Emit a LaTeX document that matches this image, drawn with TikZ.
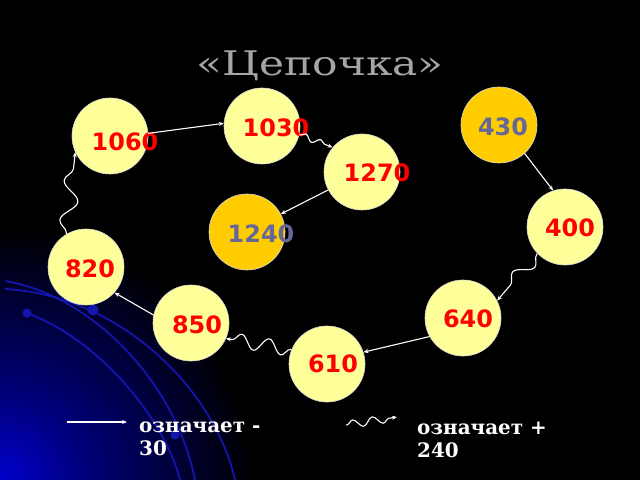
\documentclass[tikz,border=0pt]{standalone}
\usepackage{fontspec}
\setmainfont{DejaVu Serif}
\newfontfamily\numfont{DejaVu Sans}
\newfontfamily\titlefont{DejaVu Serif}[FakeStretch=1.25]
\usetikzlibrary{arrows.meta,decorations.pathmorphing}

\definecolor{paleyellow}{RGB}{255,255,153}
\definecolor{gold}{RGB}{255,204,0}
\definecolor{slate}{RGB}{102,102,153}
\definecolor{titlegray}{RGB}{165,165,165}
\definecolor{arcblue}{RGB}{20,20,175}
\definecolor{glowblue}{RGB}{0,0,205}

\pgfdeclareradialshading{cornerglow}{\pgfpoint{0bp}{0bp}}{%
  color(0bp)=(glowblue); color(3bp)=(glowblue!60!black);
  color(9bp)=(black); color(50bp)=(black)}

\tikzset{
  ball/.style={circle, fill=paleyellow, draw=white!85!black, line width=.6pt,
    minimum size=76bp, inner sep=0pt},
  goldball/.style={ball, fill=gold},
  num/.style={font=\numfont\bfseries\fontsize{24}{28}\selectfont, text=red, inner sep=0pt},
  goldnum/.style={num, text=slate},
  minus/.style={white, line width=1.1pt, -{Stealth[length=5pt,width=4pt]}},
  plus/.style={minus, decorate, decoration={snake, amplitude=5pt,
    segment length=22pt, pre length=1pt, post length=5pt}},
  legend/.style={font=\bfseries\fontsize{20}{23}\selectfont, text=white,
    align=left, anchor=north west, inner sep=0pt},
}

\begin{document}
\begin{tikzpicture}[x=1bp, y=-1bp]

\useasboundingbox (0,0) rectangle (640,480);
\begin{scope}
\clip (0,0) rectangle (640,480);
\fill[black] (-5,-5) rectangle (645,485);
\shade[shading=cornerglow] (0,480) circle (700);
\end{scope}

% blue arcs in the corner
\draw[arcblue, line width=1.8pt] (5,281) .. controls (90,295) and (175,380) .. (195,480);
\draw[arcblue, line width=1.8pt] (27,313) .. controls (100,340) and (165,420) .. (180,480);
\draw[arcblue, line width=1.8pt] (5,289) .. controls (120,295) and (215,390) .. (235,480);
\fill[arcblue] (27,313) circle (4.5) (93,310) circle (5.5) (175,435) circle (4.5);

\node[font=\titlefont\fontsize{34}{40}\selectfont, text=titlegray, anchor=base] (title) at (320,76) {«Цепочка»};

\node[ball] (n1060) at (110,136) {};
\node[num] (t1060) at (125,142) {1060};
\node[ball] (n1030) at (262,126) {};
\node[num] (t1030) at (276,128) {1030};
\node[ball] (n1270) at (362,172) {};
\node[num] (t1270) at (377,173) {1270};
\node[goldball] (n1240) at (247,232) {};
\node[goldnum] (t1240) at (261,234) {1240};
\node[goldball] (n430) at (499,125) {};
\node[goldnum] (t430) at (503,127) {430};
\node[ball] (n400) at (565,227) {};
\node[num] (t400) at (570,228) {400};
\node[ball] (n820) at (86,267) {};
\node[num] (t820) at (90,269) {820};
\node[ball] (n850) at (191,323) {};
\node[num] (t850) at (197,325) {850};
\node[ball] (n640) at (463,318) {};
\node[num] (t640) at (468,319) {640};
\node[ball] (n610) at (327,364) {};
\node[num] (t610) at (333,364) {610};

% the chain
\draw[minus] (n1060.4) -- (n1030.176);
\draw[plus, decoration={amplitude=3pt, segment length=16pt}] (n1030.-13) -- (n1270.140);
\draw[minus] (n1270.208) -- (n1240.28);
\draw[minus] (n430.-48) -- (n400.108);
\draw[plus, decoration={amplitude=7pt, segment length=36pt}] (n400.224) -- (n640.27);
\draw[minus] (n640.-151) -- (n610.18);
\draw[plus, decoration={amplitude=7pt, segment length=28pt}] (n610.158) -- (n850.-24);
\draw[minus] (n850.168) -- (n820.-42);
\draw[plus, decoration={amplitude=8pt, segment length=40pt}] (n820.121) -- (n1060.205);

% legend
\coordinate (m1) at (67,422);
\coordinate (m2) at (127,422);
\draw[minus] (m1) -- (m2);
\node[legend] (lminus) at (139,422) {означает -\\30};
\coordinate (p1) at (346,425);
\coordinate (p2) at (397,417);
\draw[plus, decoration={amplitude=4pt, segment length=20pt}] (p1) -- (p2);
\node[legend] (lplus) at (417,422) {означает +\\240};

\end{tikzpicture}
\end{document}
